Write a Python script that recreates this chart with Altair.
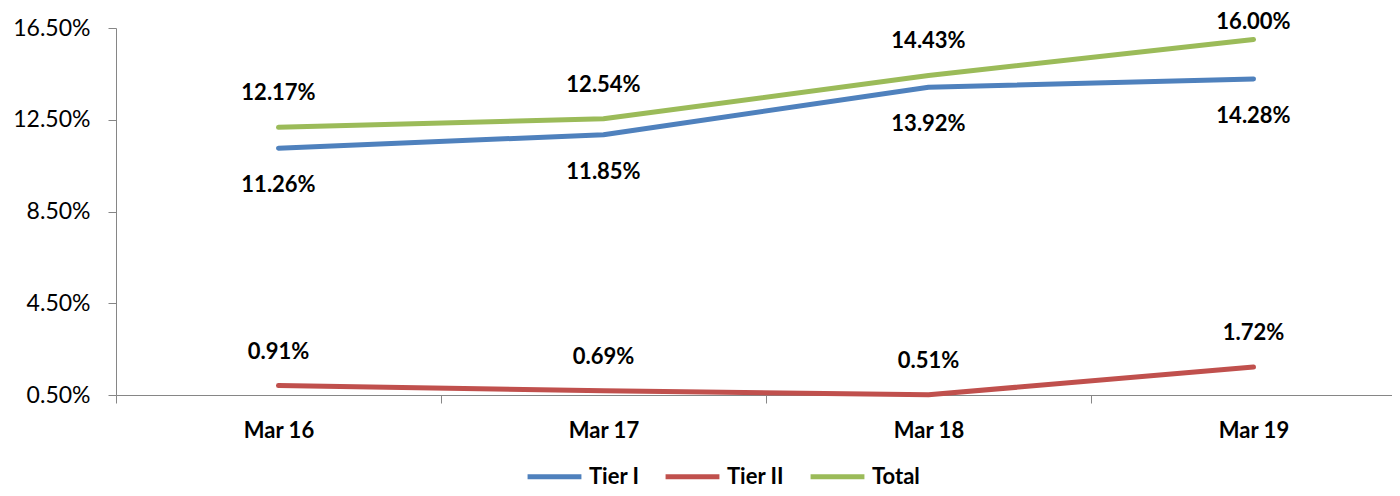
import altair as alt
import pandas as pd

categories = ["Mar 16", "Mar 17", "Mar 18", "Mar 19"]
tier1 = [11.26, 11.85, 13.92, 14.28]
tier2 = [0.91, 0.69, 0.51, 1.72]
total = [12.17, 12.54, 14.43, 16.00]
series_names = ["Tier I", "Tier II", "Total"]
series_colors = ["#4F81BD", "#C0504D", "#9BBB59"]
y_ticks = [0.5, 4.5, 8.5, 12.5, 16.5]

rows = []
for name, vals in zip(series_names, [tier1, tier2, total]):
    for c, v in zip(categories, vals):
        rows.append({"cat": c, "series": name, "value": v, "label": f"{v:.2f}%"})
df = pd.DataFrame(rows)

FONT = "Lato"

x_scale = alt.Scale(type="band", paddingInner=0, paddingOuter=0, range=[0, 1300])
y_scale = alt.Scale(domain=[0.5, 16.5], nice=False, zero=False)

x_enc = alt.X(
    "cat:N",
    sort=categories,
    scale=x_scale,
    axis=alt.Axis(
        title=None,
        labelAngle=0,
        tickBand="extent",
        labelFontWeight="bold",
        labelFontSize=22,
        labelFont=FONT,
        labelColor="black",
        labelPadding=17,
        tickSize=8,
        tickColor="#868686",
        domainColor="#868686",
        grid=False,
    ),
)
y_enc = alt.Y(
    "value:Q",
    scale=y_scale,
    axis=alt.Axis(
        title=None,
        values=y_ticks,
        labelExpr="format(datum.value, '.2f') + '%'",
        labelFontSize=23,
        labelFont=FONT,
        labelColor="black",
        labelPadding=18,
        tickSize=8,
        tickColor="#868686",
        domainColor="#868686",
        grid=False,
    ),
)
color_enc = alt.Color(
    "series:N",
    scale=alt.Scale(domain=series_names, range=series_colors),
    legend=alt.Legend(
        title=None,
        orient="none",
        direction="horizontal",
        legendX=409,
        legendY=419,
        symbolType="stroke",
        symbolSize=2900,
        symbolStrokeWidth=5,
        labelFont=FONT,
        labelFontSize=22,
        labelFontWeight="bold",
        labelColor="black",
        labelOffset=5,
        columnPadding=15,
    ),
)

base = alt.Chart(df)

lines = base.mark_line(strokeWidth=5, strokeCap="round", strokeJoin="round").encode(
    x=x_enc, y=y_enc, color=color_enc
)

def text_layer(dy):
    return base.mark_text(
        fontWeight="bold", fontSize=22, font=FONT, color="black",
        align="center", baseline="middle", dy=dy,
    ).encode(
        x=alt.X("cat:N", sort=categories),
        y=alt.Y("value:Q"),
        text="label:N",
    )

labels_below = text_layer(37).transform_filter(alt.datum.series == "Tier I")
labels_above = text_layer(-34).transform_filter(
    (alt.datum.series != "Tier I") & (alt.datum.value < 15.5)
)
labels_top = text_layer(-17).transform_filter(
    (alt.datum.series != "Tier I") & (alt.datum.value >= 15.5)
)

chart = (
    alt.layer(lines, labels_below, labels_above, labels_top)
    .properties(
        width=1276,
        height=367,
        background="white",
        autosize=alt.AutoSizeParams(type="none"),
        padding={"left": 108, "top": 20, "right": 0, "bottom": 93},
    )
    .configure_view(strokeWidth=0, stroke=None)
    .configure_axis(grid=False)
)

chart.save("out.html", embed_options={"renderer": "svg", "actions": False})
